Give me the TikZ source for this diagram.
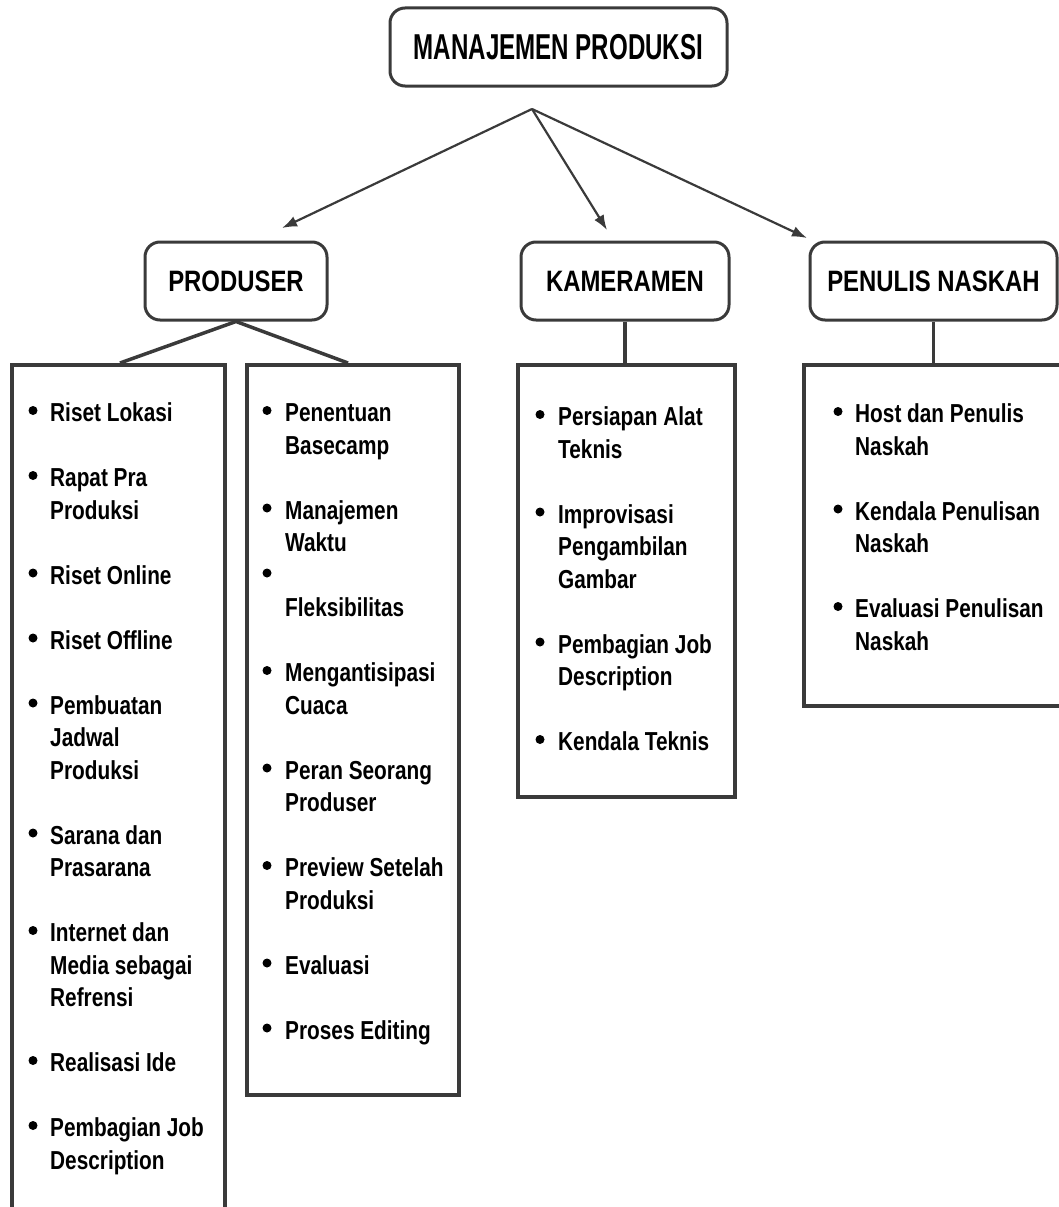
\documentclass[tikz,border=0pt]{standalone}
\usepackage{fontspec}
\setmainfont{Liberation Sans}[FakeStretch=0.80]
\newfontfamily\titlefont{Liberation Sans}[FakeStretch=0.67]
\newfontfamily\headfont{Liberation Sans}[FakeStretch=0.81]
\usetikzlibrary{arrows.meta,calc}
\definecolor{ln}{HTML}{3A3A3A}
\tikzset{
  hdr/.style={draw=ln, line width=3pt, rounded corners=15pt, minimum height=78pt, inner sep=0pt,
    font=\headfont\bfseries\fontsize{29.5}{34}\selectfont},
  lst/.style={draw=ln, line width=4pt, anchor=north west, inner sep=0pt},
  itm/.style={anchor=base west, inner sep=0pt, font=\bfseries\fontsize{26}{32}\selectfont},
  dot/.style={circle, fill=black, inner sep=0pt, minimum size=9pt},
  arr/.style={draw=ln, line width=2.2pt, -{Latex[length=15pt,width=11pt]}},
  con/.style={draw=ln, line width=3.5pt, line join=round}
}
\begin{document}
\begin{tikzpicture}[x=1pt,y=-1pt]
\useasboundingbox (0,0) rectangle (1059,1207);
\clip (0,0) rectangle (1059,1207);

% header boxes
\node[hdr, minimum width=337pt, font=\titlefont\bfseries\fontsize{36}{40}\selectfont] (top) at (558.5,47) {MANAJEMEN PRODUKSI};
\node[hdr, minimum width=182pt] (prod) at (236,281) {PRODUSER};
\node[hdr, minimum width=208pt] (kam) at (625,281) {KAMERAMEN};
\node[hdr, minimum width=247pt] (pen) at (933.5,281) {PENULIS NASKAH};

% list boxes
\node[lst, minimum width=213pt, minimum height=900pt] (lbox) at (10,363) {};
\node[lst, minimum width=212pt, minimum height=730pt] (mbox) at (245,363) {};
\node[lst, minimum width=217pt, minimum height=432pt] (kbox) at (516,363) {};
\node[lst, minimum width=300pt, minimum height=341pt] (pbox) at (802,363) {};

% connectors
\coordinate (hub) at (532,109);
\coordinate (pa) at (282,228);
\coordinate (ka) at (607,230);
\coordinate (pe) at (807,238);
\draw[arr] (hub) -- (pa);
\draw[arr] (hub) -- (ka);
\draw[arr] (hub) -- (pe);
\draw[con] ($(lbox.north west)+(110,0)$) -- (prod.south) -- ($(mbox.north west)+(103,0)$);
\draw[con] (kam.south) -- (kam.south |- kbox.north);
\draw[con] (pen.south) -- (pen.south |- pbox.north);

% left list
\foreach \r/\b/\t [count=\i] in {0/1/Riset Lokasi, 2/1/Rapat Pra, 3/0/Produksi, 5/1/Riset Online,
  7/1/Riset Offline, 9/1/Pembuatan, 10/0/Jadwal, 11/0/Produksi, 13/1/Sarana dan, 14/0/Prasarana,
  16/1/Internet dan, 17/0/Media sebagai, 18/0/Refrensi, 20/1/Realisasi Ide, 22/1/Pembagian Job,
  23/0/Description}{
  \node[itm] (L\i) at (50,{421.5+32.5*\r}) {\t};
  \ifnum\b=1 \node[dot] (Ld\i) at (33,{410.5+32.5*\r}) {};\fi
}
% middle list
\foreach \r/\b/\t [count=\i] in {0/1/Penentuan, 1/0/Basecamp, 3/1/Manajemen, 4/0/Waktu, 5/1/{},
  6/0/Fleksibilitas, 8/1/Mengantisipasi, 9/0/Cuaca, 11/1/Peran Seorang, 12/0/Produser,
  14/1/Preview Setelah, 15/0/Produksi, 17/1/Evaluasi, 19/1/Proses Editing}{
  \node[itm] (M\i) at (285,{421.5+32.5*\r}) {\t};
  \ifnum\b=1 \node[dot] (Md\i) at (267,{410.5+32.5*\r}) {};\fi
}
% kameramen list
\foreach \r/\b/\t [count=\i] in {0/1/Persiapan Alat, 1/0/Teknis, 3/1/Improvisasi, 4/0/Pengambilan,
  5/0/Gambar, 7/1/Pembagian Job, 8/0/Description, 10/1/Kendala Teknis}{
  \node[itm] (K\i) at (558,{425.5+32.5*\r}) {\t};
  \ifnum\b=1 \node[dot] (Kd\i) at (540,{414.5+32.5*\r}) {};\fi
}
% penulis list
\foreach \r/\b/\t [count=\i] in {0/1/Host dan Penulis, 1/0/Naskah, 3/1/Kendala Penulisan, 4/0/Naskah,
  6/1/Evaluasi Penulisan, 7/0/Naskah}{
  \node[itm] (P\i) at (855,{422.5+32.5*\r}) {\t};
  \ifnum\b=1 \node[dot] (Pd\i) at (838,{411.5+32.5*\r}) {};\fi
}
\end{tikzpicture}
\end{document}
